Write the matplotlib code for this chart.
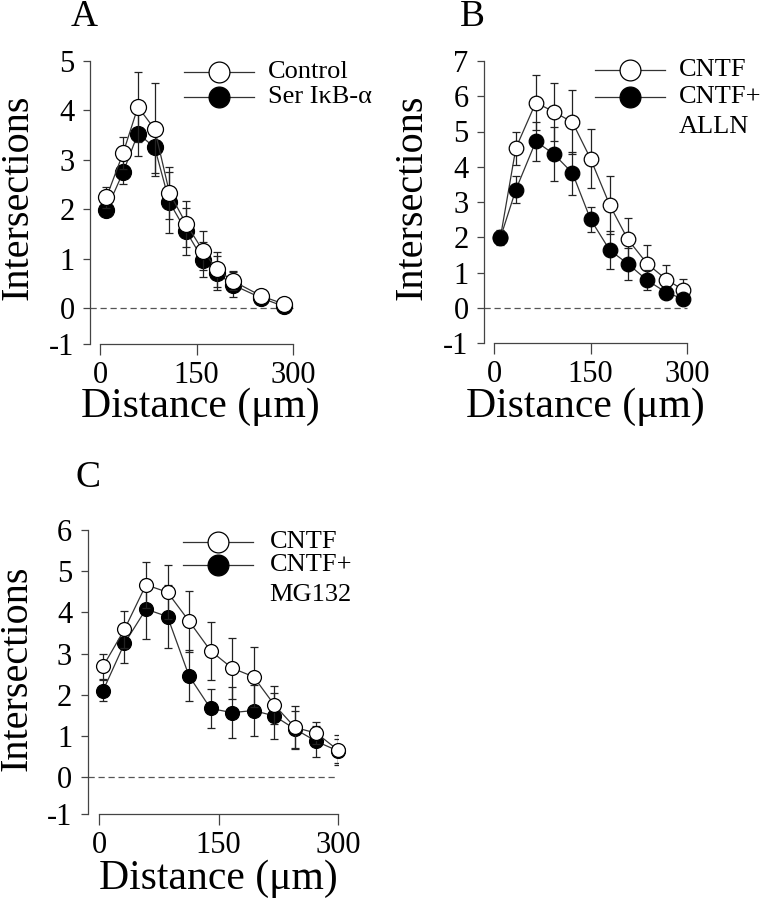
import numpy as np
import matplotlib
matplotlib.use("Agg")
import matplotlib.pyplot as plt

plt.rcParams['font.family'] = ['Liberation Serif', 'DejaVu Serif']
plt.rcParams['axes.unicode_minus'] = False

# Panel A: Control vs Ser IkB-a
dist_a = [10, 36, 59, 85, 108, 134, 160, 182, 206, 251, 286]
ctrl_a = [2.24, 3.14, 4.07, 3.62, 2.33, 1.70, 1.16, 0.78, 0.55, 0.24, 0.08]
ctrl_a_err = [0.21, 0.33, 0.71, 0.94, 0.52, 0.46, 0.39, 0.36, 0.19, 0.13, 0.03]
ser_a = [1.99, 2.75, 3.53, 3.25, 2.14, 1.55, 0.98, 0.71, 0.47, 0.20, 0.03]
ser_a_err = [0.13, 0.25, 0.45, 0.52, 0.62, 0.47, 0.36, 0.34, 0.25, 0.05, 0.03]

# Panel B: CNTF vs CNTF+ALLN
dist_b = [10, 34, 65, 93, 122, 150, 180, 208, 238, 268, 294]
ctrl_b = [2.00, 4.53, 5.82, 5.56, 5.26, 4.23, 2.91, 1.94, 1.25, 0.80, 0.51]
ctrl_b_err = [0.20, 0.47, 0.78, 0.82, 0.91, 0.83, 0.82, 0.61, 0.54, 0.42, 0.31]
alln_b = [1.99, 3.35, 4.72, 4.36, 3.82, 2.51, 1.63, 1.25, 0.78, 0.43, 0.25]
alln_b_err = [0.20, 0.38, 0.56, 0.76, 0.61, 0.36, 0.54, 0.45, 0.29, 0.15, 0.10]

# Panel C: CNTF vs CNTF+MG132
dist_c = [5, 32, 59, 86, 113, 140, 167, 194, 220, 246, 273, 300]
ctrl_c = [2.69, 3.59, 4.67, 4.49, 3.79, 3.07, 2.65, 2.44, 1.76, 1.21, 1.07, 0.66]
ctrl_c_err = [0.30, 0.45, 0.56, 0.66, 0.74, 0.71, 0.74, 0.73, 0.46, 0.52, 0.26, 0.37]
mg_c = [2.10, 3.25, 4.08, 3.90, 2.46, 1.67, 1.57, 1.62, 1.49, 1.17, 0.87, 0.64]
mg_c_err = [0.26, 0.47, 0.73, 0.77, 0.62, 0.48, 0.61, 0.62, 0.56, 0.45, 0.37, 0.30]

W, H = 765, 899
fig = plt.figure(figsize=(W / 100, H / 100), dpi=100)


def px_axes(left, top, right, bottom):
    return fig.add_axes([left / W, 1 - bottom / H, (right - left) / W, (bottom - top) / H])


def draw_series(ax, x, y, err, filled, ms, z):
    face = 'black' if filled else 'white'
    ax.errorbar(x, y, yerr=err, fmt='none', ecolor='#222222', elinewidth=0.9,
                capsize=3, capthick=0.9, zorder=z)
    ax.plot(x, y, '-', color='#333333', lw=0.9, zorder=z + 0.1)
    ax.plot(x, y, 'o', ms=ms, mfc=face, mec='black', mew=0.9, zorder=z + 0.2,
            clip_on=False)


def legend_entry(ax, xl, xr, y, filled, label, ms=15):
    face = 'black' if filled else 'white'
    ax.plot([xl, xr], [y, y], '-', color='#333333', lw=0.9,
            transform=ax.transAxes, clip_on=False, zorder=6)
    ax.plot([(xl + xr) / 2], [y], 'o', ms=ms, mfc=face, mec='black', mew=0.9,
            transform=ax.transAxes, clip_on=False, zorder=7)
    ax.text(xr + 0.07, y, label, transform=ax.transAxes, fontsize=19,
            va='center', ha='left')


def style_axes(ax, ymin, ymax, off_px):
    ax.set_xlim(0, 300)
    ax.set_ylim(ymin, ymax)
    for s in ['top', 'right']:
        ax.spines[s].set_visible(False)
    ax.spines['left'].set_position(('outward', off_px * 0.72))
    for s in ['left', 'bottom']:
        ax.spines[s].set_color('#444444')
        ax.spines[s].set_linewidth(0.9)
    ax.set_xticks([0, 150, 300])
    ax.set_xticklabels(['0', '150', '300'])
    ticks = [ymin] + list(range(0, int(ymax) + 1))
    ax.set_yticks(ticks)
    ax.set_yticklabels(['-1'] + [str(t) for t in range(0, int(ymax) + 1)])
    ax.tick_params(axis='y', direction='out', length=5, width=0.9,
                   color='#444444', labelsize=22, pad=6)
    ax.tick_params(axis='x', direction='out', length=8, width=0.9,
                   color='#444444', labelsize=22, pad=4)
    ax.axhline(0, xmin=-off_px / (ax.bbox.width), xmax=1, color='#555555',
               lw=0.9, ls=(0, (5, 3)), clip_on=False, zorder=1)


# Panel A
ax_a = px_axes(100, 61, 293, 344)
style_axes(ax_a, -0.73, 5, 10)
draw_series(ax_a, dist_a, ser_a, ser_a_err, True, 11.5, 3)
draw_series(ax_a, dist_a, ctrl_a, ctrl_a_err, False, 11.5, 4)
legend_entry(ax_a, 0.435, 0.798, 0.962, False, 'Control')
legend_entry(ax_a, 0.435, 0.798, 0.874, True, 'Ser I\u03baB-\u03b1')

# Panel B
ax_b = px_axes(494, 61, 687, 343)
style_axes(ax_b, -1, 7, 10)
draw_series(ax_b, dist_b, ctrl_b, ctrl_b_err, False, 10.5, 3)
draw_series(ax_b, dist_b, alln_b, alln_b_err, True, 10.5, 4)
legend_entry(ax_b, 0.523, 0.887, 0.968, False, 'CNTF')
legend_entry(ax_b, 0.523, 0.887, 0.873, True, 'CNTF+')
ax_b.text(0.957, 0.767, 'ALLN', transform=ax_b.transAxes, fontsize=19,
          va='center', ha='left')

# Panel C
ax_c = px_axes(99, 530, 338, 814)
style_axes(ax_c, -0.89, 6, 11.5)
draw_series(ax_c, dist_c, mg_c, mg_c_err, True, 10, 3)
draw_series(ax_c, dist_c, ctrl_c, ctrl_c_err, False, 10, 4)
legend_entry(ax_c, 0.350, 0.643, 0.959, False, 'CNTF')
legend_entry(ax_c, 0.350, 0.643, 0.877, True, 'CNTF+')
ax_c.text(0.713, 0.771, 'MG132', transform=ax_c.transAxes, fontsize=19,
          va='center', ha='left')

# axis labels and panel letters
for (x, y) in [(18, 197), (412, 197), (17, 668)]:
    fig.text(x / W, 1 - y / H, 'Intersections', rotation=90, fontsize=29,
             ha='center', va='center')
for (x, y) in [(200, 417), (585, 417), (218, 889)]:
    fig.text(x / W, 1 - y / H, 'Distance (\u03bcm)', fontsize=30,
             ha='center', va='baseline')
for (x, y, s) in [(84, 17, 'A'), (472, 17, 'B'), (88, 478, 'C')]:
    fig.text(x / W, 1 - y / H, s, fontsize=27, ha='center', va='center')

fig.savefig('out.png', dpi=100)
